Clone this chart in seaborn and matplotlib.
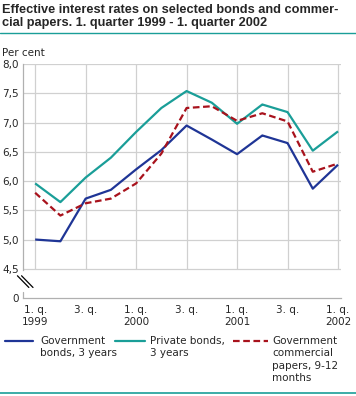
import pandas as pd
import seaborn as sns
import matplotlib.pyplot as plt
from matplotlib.lines import Line2D

# quarters 1. q. 1999 - 1. q. 2002
quarters = list(range(13))
gov_bonds = [5.00, 4.97, 5.70, 5.85, 6.20, 6.53, 6.95, 6.71, 6.46, 6.78, 6.65, 5.87, 6.28]
private_bonds = [5.96, 5.64, 6.06, 6.40, 6.84, 7.25, 7.54, 7.34, 6.98, 7.31, 7.18, 6.52, 6.85]
gov_papers = [5.80, 5.41, 5.62, 5.70, 5.96, 6.47, 7.25, 7.28, 7.03, 7.16, 7.02, 6.16, 6.30]

series_names = ["Government\nbonds, 3 years", "Private bonds,\n3 years",
                "Government\ncommercial\npapers, 9-12\nmonths"]
tick_pos = [0, 2, 4, 6, 8, 10, 12]
tick_labels = ["1. q.\n1999", "3. q.", "1. q.\n2000", "3. q.", "1. q.\n2001", "3. q.", "1. q.\n2002"]
y_ticks = [4.0, 4.5, 5.0, 5.5, 6.0, 6.5, 7.0, 7.5, 8.0]
y_labels = ["0", "4,5", "5,0", "5,5", "6,0", "6,5", "7,0", "7,5", "8,0"]

colors = ["#1f3596", "#1a9e98", "#a8121c"]

df = pd.DataFrame({
    "q": quarters * 3,
    "rate": gov_bonds + private_bonds + gov_papers,
    "series": [series_names[0]] * 13 + [series_names[1]] * 13 + [series_names[2]] * 13,
})

sns.set_style("white")
plt.rcParams["font.family"] = ["DejaVu Sans"]

W, H = 356, 396
fig = plt.figure(figsize=(W / 100, H / 100), dpi=100)
ax = fig.add_axes([0.065, 0.2475, 0.893, 0.5905])

# grid first
for v in y_ticks[1:]:
    ax.axhline(v, color="#d0d0d0", lw=0.9, zorder=0)
for p in tick_pos:
    ax.vlines(p, 4.5, 8.0, color="#d0d0d0", lw=0.9, zorder=0)

sns.lineplot(data=df, x="q", y="rate", hue="series", style="series",
             palette=colors, dashes=[(1, 0), (1, 0), (3, 1.6)],
             linewidth=1.6, ax=ax, legend=False, zorder=3)

ax.set_xlim(-0.476, 12.12)
ax.set_ylim(4.0, 8.0)
ax.set_xticks(quarters)
ax.set_xticklabels([tick_labels[tick_pos.index(q)] if q in tick_pos else "" for q in quarters],
                   fontsize=7.5)
ax.tick_params(axis="x", direction="in", length=7, color="#c0c0c0", width=0.9, pad=5)
ax.set_yticks(y_ticks)
ax.set_yticklabels(y_labels, fontsize=7.5)
ax.tick_params(axis="y", length=0, pad=3)
ax.set_xlabel("")
ax.set_ylabel("")

for s in ["top", "right"]:
    ax.spines[s].set_visible(False)
for s in ["left", "bottom"]:
    ax.spines[s].set_color("#b0b0b0")
    ax.spines[s].set_linewidth(0.9)
ax.spines["left"].set_bounds(4.48, 8.0)
ax.plot([-0.476, -0.476], [4.0, 4.1], color="#b0b0b0", lw=0.9, clip_on=False, zorder=4)

# axis break marks
for dx in (0, 0.013):
    ax.plot([-0.018 + dx, 0.018 + dx], [0.095, 0.045], transform=ax.transAxes,
            color="black", lw=0.9, clip_on=False, zorder=5)

fig.text(0.006, 0.99, "Effective interest rates on selected bonds and commer-\ncial papers. 1. quarter 1999 - 1. quarter 2002",
         fontsize=9.2, fontweight="bold", va="top", ha="left", linespacing=1.1,
         family=["Liberation Sans", "DejaVu Sans"])
fig.add_artist(Line2D([0, 1], [0.917, 0.917], color="#1a9e98", lw=1.0))
fig.text(0.006, 0.88, "Per cent", fontsize=7.5, va="top", ha="left")
fig.add_artist(Line2D([0, 1], [0.007, 0.007], color="#1a9e98", lw=1.2))

# legend drawn by hand so entries are top aligned
leg_handles = [(5, 33), (115, 145), (233, 268)]
leg_text_x = [40, 150, 272]
leg_styles = ["-", "-", (0, (3, 1.6))]
for (x0, x1), tx, c, ls, name in zip(leg_handles, leg_text_x, colors, leg_styles, series_names):
    fig.add_artist(Line2D([x0 / W, x1 / W], [1 - 341 / H, 1 - 341 / H], color=c, lw=1.6, ls=ls))
    fig.text(tx / W, 1 - 336 / H, name, fontsize=7.5, va="top", ha="left", linespacing=1.3)

fig.savefig("out.png", dpi=100)
